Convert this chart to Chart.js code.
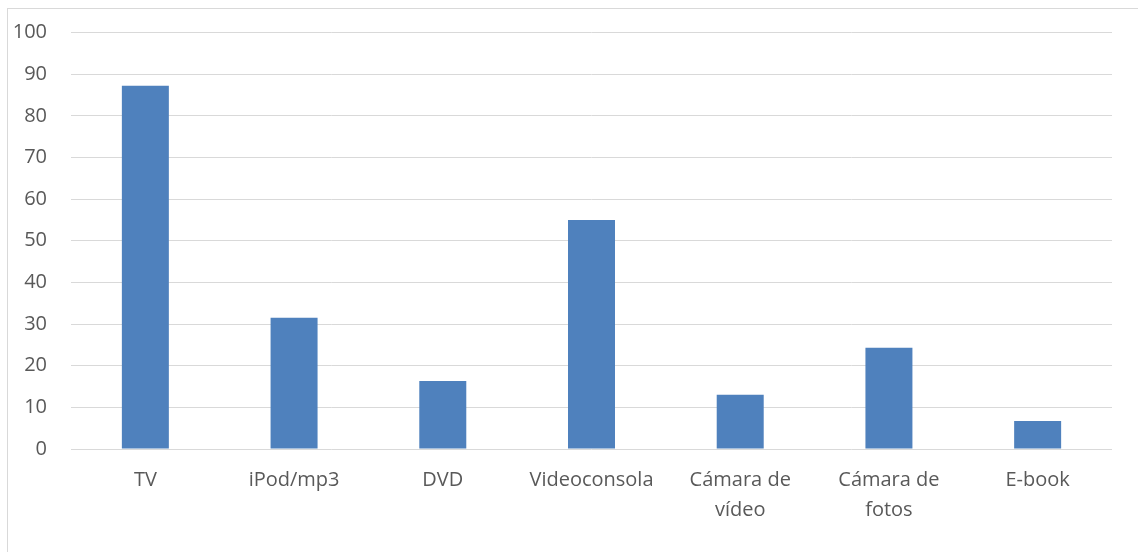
<!DOCTYPE html>
<html>
<head>
<meta charset="utf-8">
<script src="https://cdn.jsdelivr.net/npm/chart.js@4/dist/chart.umd.min.js"></script>
<style>
  html, body { margin: 0; padding: 0; background: #fff; }
  #wrap { position: relative; width: 1138px; height: 552px; overflow: hidden; }
  #frame { position: absolute; left: 7px; top: 8px; width: 1200px; height: 600px; border: 1px solid #d9d9d9; box-sizing: border-box; }
  canvas { position: absolute; left: 0; top: 0; }
</style>
</head>
<body>
<div id="wrap">
  <div id="frame"></div>
  <canvas id="c" width="1138" height="552"></canvas>
</div>
<script>
const categories = ["TV", "iPod/mp3", "DVD", "Videoconsola", "Cámara de vídeo", "Cámara de fotos", "E-book"];
const values = [87.2, 31.5, 16.3, 55.0, 13.0, 24.3, 6.7];
const yTicks = [0, 10, 20, 30, 40, 50, 60, 70, 80, 90, 100];

const family = "'Open Sans', 'Liberation Sans', sans-serif";

new Chart(document.getElementById('c'), {
  type: 'bar',
  data: {
    labels: categories,
    datasets: [{
      data: values,
      backgroundColor: '#4f81bd',
      borderWidth: 0,
      categoryPercentage: 1.0,
      barPercentage: 0.316
    }]
  },
  options: {
    responsive: false,
    animation: false,
    layout: { padding: { left: 0, right: 26, top: 32.5, bottom: 0 } },
    plugins: { legend: { display: false }, tooltip: { enabled: false } },
    scales: {
      x: {
        grid: { display: false },
        border: { display: false },
        ticks: {
          color: '#595959',
          font: { family: family, size: 20, lineHeight: 1.5 },
          maxRotation: 0,
          autoSkip: false,
          padding: 8,
          callback: function(v) {
            const l = categories[v];
            const i = l.indexOf(' de ');
            return i >= 0 ? [l.slice(0, i + 3), l.slice(i + 4)] : l;
          }
        },
        afterFit: function(s) { s.height = 103; s.paddingTop = 0; s.paddingBottom = 0; }
      },
      y: {
        min: 0, max: 100,
        afterBuildTicks: function(s) { s.ticks = yTicks.map(v => ({ value: v })); },
        grid: { color: '#d9d9d9', lineWidth: 1, drawTicks: false },
        border: { display: false },
        ticks: { color: '#595959', font: { family: family, size: 20 }, padding: 24 },
        afterFit: function(s) { s.width = 71; s.paddingTop = 0; s.paddingBottom = 0; }
      }
    }
  }
});
</script>
</body>
</html>
